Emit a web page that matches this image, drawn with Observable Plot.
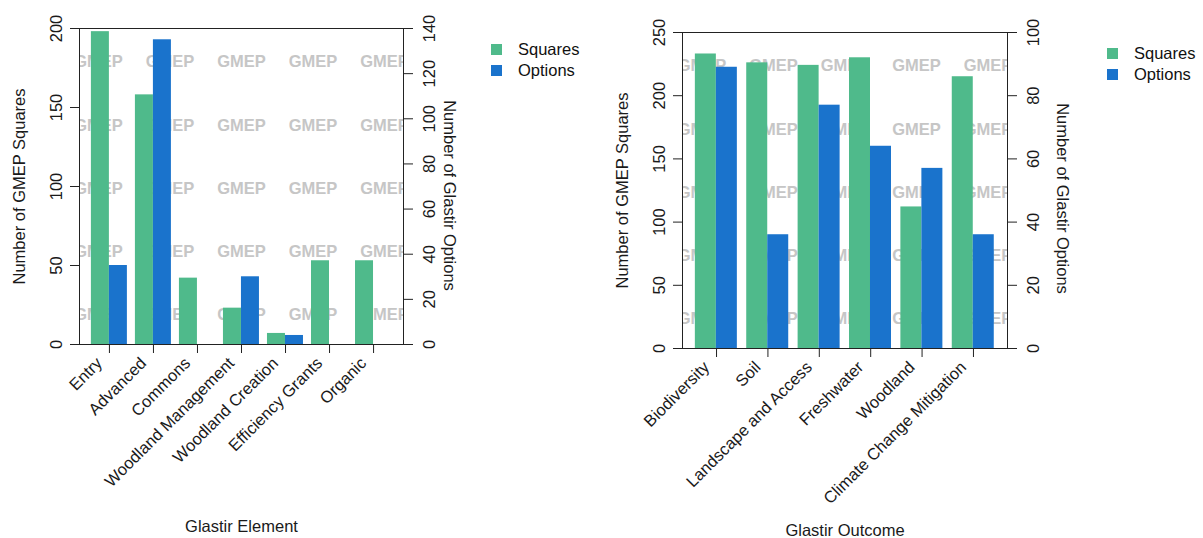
<!DOCTYPE html>
<html><head><meta charset="utf-8">
<script src="https://cdn.jsdelivr.net/npm/d3@7"></script>
<script src="https://cdn.jsdelivr.net/npm/@observablehq/plot@0.6"></script>
<style>
body{margin:0;background:#fff;}
#wrap{display:flex;width:1203px;height:538px;overflow:hidden;}
.panel{position:relative;height:538px;}
.panel > svg{position:absolute;left:0;top:0;}
.legend{position:absolute;font-family:"Liberation Sans",Arial,sans-serif;font-size:16.5px;color:#111;line-height:21px;}
.legend .row{display:flex;align-items:center;height:21px;}
.legend .sw{width:11px;height:11px;margin-right:16px;flex:none;}
</style></head><body><div id="wrap"></div>
<script>
// ---- data ----
const elementCategories = ["Entry","Advanced","Commons","Woodland Management","Woodland Creation","Efficiency Grants","Organic"];
const elementSquares = [198, 158, 42, 23, 7, 53, 53];
const elementOptions = [35, 135, 0, 30, 4, 0, 0];
const elementSquareTicks = [0, 50, 100, 150, 200];
const elementOptionTicks = [0, 20, 40, 60, 80, 100, 120, 140];

const outcomeCategories = ["Biodiversity","Soil","Landscape and Access","Freshwater","Woodland","Climate Change Mitigation"];
const outcomeSquares = [233, 226, 224, 230, 112, 215];
const outcomeOptions = [89, 36, 77, 64, 57, 36];
const outcomeSquareTicks = [0, 50, 100, 150, 200, 250];
const outcomeOptionTicks = [0, 20, 40, 60, 80, 100];

const seriesNames = ["Squares", "Options"];
const seriesColors = ["#4fba8b", "#1a73cc"];
const watermarkWord = "GMEP";

function makePanel(cfg) {
  const k = cfg.sqMax / cfg.optMax;
  const rows = cfg.cats.flatMap((c, i) => [
    {cat: c, series: "Squares", value: cfg.squares[i]},
    {cat: c, series: "Options", value: cfg.options[i] * k}
  ]);
  const wmRows = [0.1, 0.3, 0.5, 0.7, 0.9].map(f => f * cfg.sqMax);
  const wmText = Array(5).fill(watermarkWord).join("\u00a0\u00a0\u00a0\u00a0\u00a0");
  const font = '"Liberation Sans", Arial, sans-serif';
  const common = {
    width: cfg.width, height: 538,
    marginLeft: cfg.ml, marginRight: cfg.mr, marginTop: cfg.mt, marginBottom: cfg.mb,
    style: {fontFamily: font, fontSize: "16.5px", color: "#1a1a1a", background: "transparent", overflow: "visible"}
  };
  // underlay: watermark, box, both y axes, axis titles
  const under = Plot.plot({
    ...common,
    y: {domain: [0, cfg.sqMax], axis: null},
    marks: [
      Plot.text(wmRows, {y: d => d, frameAnchor: "middle", text: () => wmText, dy: 2,
        fill: "#c6c6c6", fontWeight: "bold", clip: true}),
      Plot.frame({stroke: "#222"}),
      Plot.axisY({anchor: "left", ticks: cfg.sqTicks, tickSize: 9, tickRotate: -90,
        tickPadding: 9, label: null, stroke: "#222"}),
      Plot.axisY({anchor: "right", ticks: cfg.optTicks.map(t => t * k),
        tickFormat: d => String(Math.round(d / k)), tickSize: 9, tickRotate: -90, lineAnchor: "top",
        tickPadding: 11, label: null, stroke: "#222"}),
      Plot.text([cfg.yLabel], {frameAnchor: "left", textAnchor: "middle", text: d => d, rotate: -90, dx: -60}),
      Plot.text([cfg.y2Label], {frameAnchor: "right", textAnchor: "middle", text: d => d, rotate: 90, dx: cfg.y2dx, dy: cfg.y2dy})
    ]
  });
  // bars layer: grouped bars faceted by category, x-axis ticks and labels
  const bars = Plot.plot({
    ...common,
    fx: {domain: cfg.cats, paddingInner: cfg.pi, paddingOuter: cfg.po, round: false},
    x: {domain: seriesNames, padding: 0, axis: null},
    y: {domain: [0, cfg.sqMax], axis: null},
    color: {domain: seriesNames, range: seriesColors},
    marks: [
      Plot.barY(rows, {fx: "cat", x: "series", y: "value", fill: "series"}),
      Plot.axisFx({anchor: "bottom", tickSize: 9, tickFormat: () => "", label: null, stroke: "#222"}),
      Plot.axisFx({anchor: "bottom", tickSize: 0, tickRotate: -45, tickPadding: 12, dx: -10, dy: 4, label: null})
    ]
  });
  const title = Plot.plot({
    ...common,
    marks: [Plot.text([cfg.xLabel], {frameAnchor: "bottom", textAnchor: "middle", text: d => d, dy: 187})]
  });
  const div = document.createElement("div");
  div.className = "panel";
  div.style.width = cfg.width + "px";
  div.appendChild(under);
  div.appendChild(bars);
  div.appendChild(title);
  const leg = document.createElement("div");
  leg.className = "legend";
  leg.style.left = cfg.legX + "px";
  leg.style.top = cfg.legY + "px";
  seriesNames.forEach((s, i) => {
    const r = document.createElement("div"); r.className = "row";
    const sw = document.createElement("div"); sw.className = "sw"; sw.style.background = seriesColors[i];
    const t = document.createElement("span"); t.textContent = s;
    r.appendChild(sw); r.appendChild(t); leg.appendChild(r);
  });
  div.appendChild(leg);
  return div;
}

const wrap = document.getElementById("wrap");
wrap.appendChild(makePanel({
  cats: elementCategories, squares: elementSquares, options: elementOptions,
  sqMax: 200, optMax: 140, sqTicks: elementSquareTicks, optTicks: elementOptionTicks,
  width: 601, ml: 79, mr: 198, mt: 28, mb: 194, pi: 0.18, po: 0.27,
  xLabel: "Glastir Element", yLabel: "Number of GMEP Squares", y2Label: "Number of Glastir Options",
  y2dx: 46, y2dy: 9, legX: 491, legY: 39
}));
wrap.appendChild(makePanel({
  cats: outcomeCategories, squares: outcomeSquares, options: outcomeOptions,
  sqMax: 250, optMax: 100, sqTicks: outcomeSquareTicks, optTicks: outcomeOptionTicks,
  width: 602, ml: 81, mr: 196, mt: 32, mb: 190, pi: 0.175, po: 0.25,
  xLabel: "Glastir Outcome", yLabel: "Number of GMEP Squares", y2Label: "Number of Glastir Options",
  y2dx: 55, y2dy: 8, legX: 506, legY: 43
}));
</script>
</body></html>
